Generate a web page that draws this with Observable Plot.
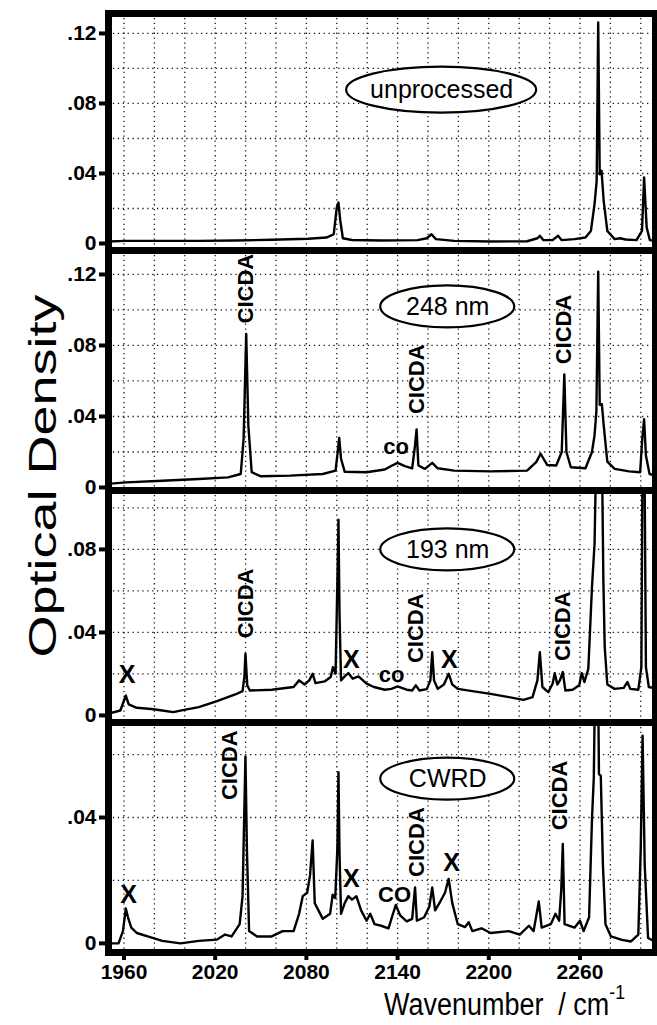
<!DOCTYPE html>
<html><head><meta charset="utf-8">
<script src="https://cdn.jsdelivr.net/npm/d3@7"></script>
<script src="https://cdn.jsdelivr.net/npm/@observablehq/plot@0.6"></script>
<style>
body{margin:0;background:#fff;}
#chart{position:relative;width:657px;height:1025px;overflow:hidden;font-family:"Liberation Sans",Arial,Helvetica,sans-serif;color:#000;}
.panel{position:absolute;left:0;}
#ytitle{position:absolute;left:43px;top:476px;transform:translate(-50%,-50%) rotate(-90deg) scale(1.42,1.0);font-size:38px;white-space:nowrap;}
#xtitle{position:absolute;left:384px;top:985px;font-size:29px;white-space:nowrap;transform:scale(0.93,1.1);transform-origin:left top;}
#xtitle sup{font-size:19px;position:relative;top:-4px;}
</style></head><body><div id="chart"><div id="ytitle">Optical Density</div><div id="xtitle">Wavenumber &nbsp;/ cm<sup>-1</sup></div></div>
<script>
// ---------- data ----------
const wavenumberTicks = [1960, 2020, 2080, 2140, 2200, 2260];
const wavenumberGrid = [1960, 1980, 2000, 2020, 2040, 2060, 2080, 2100, 2120, 2140, 2160, 2180, 2200, 2220, 2240, 2260, 2280, 2300];
const panelLabels = ["unprocessed", "248 nm", "193 nm", "CWRD"];
const yTicksUnprocessed = [0, 0.04, 0.08, 0.12];
const yTicks248 = [0, 0.04, 0.08, 0.12];
const yTicks193 = [0, 0.04, 0.08];
const yTicksCWRD = [0, 0.04];
const yGridUnprocessed = [0.02, 0.04, 0.06, 0.08, 0.10, 0.12];
const yGrid248 = [0.02, 0.04, 0.06, 0.08, 0.10, 0.12];
const yGrid193 = [0.02, 0.04, 0.06, 0.08, 0.10];
const yGridCWRD = [0.02, 0.04, 0.06];

const spectrumUnprocessed = [
[1949.2,0.0011],[1961.2,0.0015],[1985.2,0.0015],[2009.2,0.0015],[2033.2,0.0017],[2057.2,0.0021],[2081.2,0.0027],[2093.2,0.0034],
[2098,0.0053],[2100,0.0206],[2101.1,0.0234],[2102.3,0.013],[2104,0.003],[2110,0.002],[2129.2,0.0017],[2153.2,0.0019],
[2159.2,0.003],[2162.3,0.0053],[2165.2,0.0025],[2177.2,0.0015],[2201.2,0.0011],[2225.2,0.0013],[2232,0.003],[2233.6,0.0044],
[2236,0.0019],[2242,0.0019],[2245.6,0.0044],[2248,0.0019],[2256.4,0.0025],[2263.6,0.0034],[2267.2,0.0072],[2269.6,0.0225],
[2271,0.0358],[2272,0.1263],[2273,0.0396],[2274.2,0.0415],[2275.6,0.0244],[2278,0.0072],[2282.8,0.0025],[2286.4,0.003],
[2290,0.0023],[2297.2,0.0019],[2300.8,0.0072],[2302.2,0.0377],[2303.9,0.0091],[2306,0.0019],[2311.6,0.0011]
];
const spectrum248 = [
[1948,0.0019],[1961.2,0.0029],[1985.2,0.0038],[2009.2,0.0048],[2028.4,0.0057],[2036.8,0.0076],[2038.7,0.0276],[2040.4,0.0865],
[2041.8,0.0352],[2044,0.0086],[2050,0.0063],[2069.2,0.0067],[2090.8,0.0076],[2099.2,0.0095],[2100.6,0.02],[2101.6,0.0279],
[2102.8,0.0162],[2105.2,0.0089],[2119.6,0.0086],[2131.6,0.0101],[2136.4,0.0124],[2140,0.0139],[2144.8,0.012],[2149.6,0.0108],
[2151.5,0.0238],[2152.5,0.0327],[2153.7,0.0124],[2158,0.0105],[2162.8,0.0139],[2166.4,0.0108],[2177.2,0.0095],[2201.2,0.0091],
[2225.2,0.0095],[2231.2,0.0143],[2234.1,0.019],[2238.4,0.0127],[2244.4,0.0124],[2248,0.02],[2249.7,0.0637],[2251.1,0.02],
[2254,0.0114],[2263.6,0.0108],[2267.9,0.02],[2269.6,0.0295],[2270.8,0.0428],[2272,0.1216],[2273,0.0466],[2274.4,0.0469],
[2275.6,0.0352],[2278,0.0146],[2282.8,0.0105],[2292.4,0.0091],[2299.6,0.0086],[2301,0.0276],[2302.2,0.0384],[2303.4,0.018],
[2305.8,0.0076],[2311.6,0.0063]
];
const spectrum193 = [
[1949.2,0.0008],[1957.6,0.0024],[1960,0.0072],[1961.2,0.0096],[1963.1,0.0053],[1968.4,0.0037],[1978,0.0031],[1985.2,0.0024],
[1992.4,0.0016],[1999.6,0.0027],[2009.2,0.004],[2021.2,0.0069],[2033.2,0.0101],[2038,0.0117],[2039.2,0.0185],[2039.9,0.0297],
[2041.1,0.0145],[2042.8,0.012],[2057.2,0.0124],[2071.6,0.0137],[2075.2,0.0169],[2078.8,0.0149],[2081.9,0.0169],[2084.1,0.0201],
[2086,0.0156],[2092,0.0164],[2096,0.0185],[2097.5,0.0233],[2099.2,0.0201],[2100.4,0.065],[2101.1,0.0943],[2101.8,0.049],
[2102.8,0.0169],[2105.2,0.0188],[2107.6,0.0204],[2110.5,0.0177],[2114.3,0.0188],[2119.6,0.0153],[2124.4,0.0137],[2131.6,0.0124],
[2135.9,0.0128],[2140,0.014],[2146,0.0124],[2149.6,0.012],[2152,0.0145],[2154.4,0.012],[2159.2,0.0127],[2161.6,0.0169],
[2162.8,0.0305],[2164,0.0169],[2166.4,0.0128],[2170.5,0.0149],[2173.6,0.0201],[2176,0.0149],[2179.6,0.0128],[2189.2,0.0117],
[2201.2,0.0104],[2213.2,0.0088],[2222.8,0.0075],[2228.8,0.0088],[2232,0.0169],[2233.6,0.0305],[2235.3,0.0137],[2239.1,0.0112],
[2242,0.0153],[2243.4,0.0204],[2245.1,0.0149],[2246.8,0.0169],[2248.7,0.0209],[2250.4,0.012],[2255.2,0.0124],[2259.5,0.0145],
[2261.2,0.0204],[2262.9,0.0161],[2265.5,0.0225],[2267.9,0.0618],[2269.6,0.0827],[2270.8,0.13],[2274.4,0.13],[2275.4,0.065],
[2276.3,0.0329],[2278,0.0149],[2282.8,0.0128],[2288.8,0.0133],[2291.2,0.0161],[2293.1,0.0128],[2298.4,0.0124],[2300.4,0.0233],
[2301.2,0.13],[2302.4,0.13],[2303.4,0.0233],[2305.3,0.0137],[2311.6,0.0128]
];
const spectrumCWRD = [
[1949.2,0.0],[1956.4,0.0],[1959.3,0.0039],[1961.2,0.0111],[1962.6,0.0083],[1964.8,0.005],[1968.4,0.0033],[1975.6,0.0022],
[1985.2,0.0008],[1997.2,0.0],[2009.2,0.0008],[2021.2,0.0012],[2026.5,0.0028],[2030.8,0.0022],[2036.1,0.0061],[2038,0.015],
[2039.9,0.0594],[2040.9,0.0294],[2042.3,0.0039],[2047.6,0.0022],[2057.2,0.0022],[2064.4,0.0039],[2071.6,0.0039],[2075.2,0.0094],
[2077.6,0.015],[2080.5,0.0161],[2082.4,0.0216],[2084.1,0.0327],[2085.5,0.0128],[2090.8,0.0078],[2095.6,0.0094],[2097.3,0.0155],
[2099,0.0144],[2100.4,0.0305],[2101.1,0.0544],[2101.8,0.0283],[2102.8,0.0094],[2105.2,0.0128],[2107.6,0.015],[2110,0.0139],
[2112.9,0.015],[2116,0.0105],[2119.6,0.0072],[2122,0.0094],[2124.9,0.0061],[2129.2,0.0056],[2134,0.0048],[2138.8,0.0122],
[2141.7,0.0089],[2146,0.007],[2149.6,0.0078],[2151.5,0.0178],[2152.7,0.0072],[2157.5,0.0083],[2160.9,0.0117],[2162.8,0.0178],
[2164.7,0.0105],[2168.1,0.0133],[2171.2,0.0161],[2173.6,0.0205],[2176,0.0128],[2179.6,0.0061],[2184.4,0.0052],[2186.8,0.0067],
[2189.2,0.0039],[2195.2,0.0048],[2201.2,0.0033],[2213.2,0.0039],[2220.4,0.0028],[2226.4,0.0056],[2229.5,0.0039],[2232.9,0.0133],
[2234.8,0.005],[2240.8,0.0061],[2243.9,0.0094],[2246.3,0.0072],[2247.7,0.0172],[2248.7,0.0316],[2249.9,0.0061],[2256.4,0.005],
[2260,0.0072],[2262.4,0.0039],[2266,0.0083],[2267.9,0.0394],[2269.1,0.0527],[2270.1,0.09],[2271.8,0.09],[2272.5,0.0538],
[2273.7,0.0533],[2275.1,0.025],[2276.8,0.0061],[2280.4,0.0022],[2287.6,0.0011],[2293.6,0.0006],[2298.4,0.0028],[2300,0.0305],
[2301.2,0.066],[2302.6,0.025],[2304.8,0.0017],[2311.6,0.0]
];

const notesUnprocessed = [];
const notes248 = [
  {x: 2040, y: 0.112, text: "CICDA"},
  {x: 2139, y: 0.0228, text: "co"},
  {x: 2152.5, y: 0.061, text: "CICDA"},
  {x: 2249.5, y: 0.089, text: "CICDA"}
];
const notes193 = [
  {x: 1962, y: 0.0193, text: "X"},
  {x: 2040, y: 0.054, text: "CICDA"},
  {x: 2109.5, y: 0.0265, text: "X"},
  {x: 2136, y: 0.0193, text: "co"},
  {x: 2152, y: 0.042, text: "CICDA"},
  {x: 2174, y: 0.0265, text: "X"},
  {x: 2249, y: 0.043, text: "CICDA"}
];
const notesCWRD = [
  {x: 1963, y: 0.0155, text: "X"},
  {x: 2029.6, y: 0.0566, text: "CICDA"},
  {x: 2109.5, y: 0.0205, text: "X"},
  {x: 2138, y: 0.0155, text: "CO"},
  {x: 2152.5, y: 0.0322, text: "CICDA"},
  {x: 2175.5, y: 0.0255, text: "X"},
  {x: 2247, y: 0.047, text: "CICDA"}
];
const labelCenters = [
  {x: 2169, y: 0.0876},
  {x: 2173, y: 0.1017},
  {x: 2173, y: 0.0798},
  {x: 2173, y: 0.0522}
];

// ---------- layout ----------
const xDomain = [1949.8, 2309.7];
const font = '"Liberation Sans", Arial, Helvetica, sans-serif';
const panels = [
  {data: spectrumUnprocessed, notes: notesUnprocessed, ticks: yTicksUnprocessed, grid: yGridUnprocessed, top: 13, bottom: 250, domain: [-0.004, 0.1314], rx: 95, ry: 23},
  {data: spectrum248, notes: notes248, ticks: yTicks248, grid: yGrid248, top: 250, bottom: 490, domain: [-0.0017, 0.1335], rx: 67, ry: 21},
  {data: spectrum193, notes: notes193, ticks: yTicks193, grid: yGrid193, top: 490, bottom: 722, domain: [-0.0034, 0.1084], rx: 67, ry: 21},
  {data: spectrumCWRD, notes: notesCWRD, ticks: yTicksCWRD, grid: yGridCWRD, top: 722, bottom: 952, domain: [-0.0029, 0.0702], rx: 67, ry: 21}
];
const fmt = d => d === 0 ? "0" : d.toFixed(2).replace(/^0/, "");
const chart = document.getElementById("chart");
const gridStyle = {stroke: "#000", strokeOpacity: 0.9, strokeWidth: 1.3, strokeDasharray: "1.3,3.6"};

panels.forEach((p, i) => {
  const last = i === panels.length - 1;
  const h = p.bottom - p.top;
  const mb = last ? 45 : 0;
  const center = [{x: labelCenters[i].x, y: labelCenters[i].y, text: panelLabels[i]}];
  const rotated = p.notes.filter(d => d.text === "CICDA");
  const upright = p.notes.filter(d => d.text !== "CICDA");
  const marks = [
    Plot.gridX({ticks: wavenumberGrid, ...gridStyle}),
    Plot.gridY({ticks: p.grid, ...gridStyle}),
    Plot.line(p.data, {x: d => d[0], y: d => d[1], stroke: "#000", strokeWidth: 2.4, strokeLinejoin: "round", clip: true}),
    Plot.text(rotated, {x: "x", y: "y", text: "text", rotate: -90, fontSize: 22, fontWeight: "bold", fill: "#000"}),
    Plot.text(upright, {x: "x", y: "y", text: "text", fontSize: d => d.text === "X" ? 25 : 22, fontWeight: "bold", fill: "#000"}),
    Plot.text(center, {x: "x", y: "y", text: "text", fontSize: 25, fill: "#000"}),
    Plot.frame({stroke: "#000", strokeWidth: 7}),
    Plot.axisY({ticks: p.ticks, tickFormat: fmt, tickSize: 9, tickPadding: 3, strokeWidth: 4, fontSize: 21, fontWeight: "bold", label: null})
  ];
  if (last) marks.push(Plot.axisX({ticks: wavenumberTicks, tickFormat: d => String(d), tickSize: 8, tickPadding: 4, strokeWidth: 4, fontSize: 21, fontWeight: "bold", label: null}));
  const plot = Plot.plot({
    width: 657, height: h + mb,
    marginLeft: 108, marginRight: 2, marginTop: 0, marginBottom: mb,
    style: {background: "transparent", overflow: "visible", fontFamily: font, color: "#000"},
    x: {domain: xDomain, axis: null, label: null},
    y: {domain: p.domain, axis: null, label: null},
    marks
  });
  plot.classList.add("panel");
  plot.style.top = p.top + "px";
  plot.style.position = "absolute";
  const sx = plot.scale("x"), sy = plot.scale("y");
  const labelText = Array.from(plot.querySelectorAll("text")).find(t => t.textContent === panelLabels[i]);
  const ell = document.createElementNS("http://www.w3.org/2000/svg", "ellipse");
  ell.setAttribute("cx", sx.apply(labelCenters[i].x));
  ell.setAttribute("cy", sy.apply(labelCenters[i].y));
  ell.setAttribute("rx", p.rx);
  ell.setAttribute("ry", p.ry);
  ell.setAttribute("fill", "#fff");
  ell.setAttribute("stroke", "#000");
  ell.setAttribute("stroke-width", 2.2);
  if (labelText) {
    const g = labelText.parentNode;
    g.parentNode.insertBefore(ell, g);
  } else {
    plot.appendChild(ell);
  }
  chart.appendChild(plot);
});
</script></body></html>
